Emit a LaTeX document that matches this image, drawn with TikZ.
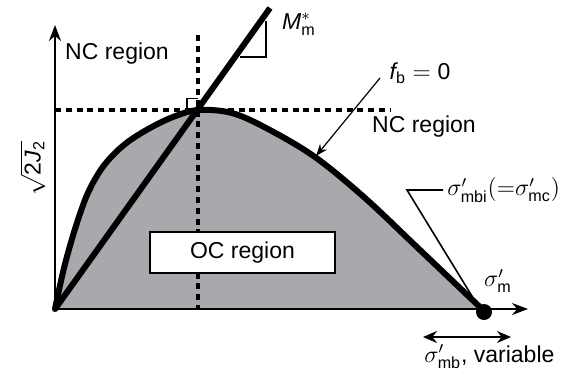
\documentclass[tikz,border=0pt]{standalone}
\usepackage{fontspec}
\setmainfont{Liberation Sans}
\usetikzlibrary{arrows.meta}
\definecolor{fillgray}{RGB}{168,169,172}
\begin{document}
\begin{tikzpicture}[x=0.5pt,y=-0.5pt,
  axisline/.style={line width=1pt,-{Stealth[length=8pt,width=6pt]}},
  bold/.style={line width=3pt,line cap=round,line join=round},
  dashline/.style={line width=1.7pt,dash pattern=on 3pt off 2.4pt},
  thinline/.style={line width=0.6pt},
  lbl/.style={font=\fontsize{11.5}{13}\selectfont,inner sep=0pt}]
\useasboundingbox (0,0) rectangle (561,372);
% key points
\coordinate (O) at (55,309);
\coordinate (ytip) at (55,25);
\coordinate (xtip) at (528,309);
\coordinate (peak) at (198,110);
\coordinate (mtop) at (270,8);
\coordinate (vtop) at (198,35);
\coordinate (vbot) at (198,309);
\coordinate (hleft) at (55,110);
\coordinate (hright) at (390,110);
% shaded region
\fill[fillgray] plot[smooth,tension=0.55] coordinates {(55,309) (64,268) (75,229) (87,195) (100,171) (113,155) (129,141) (150,128) (173,117) (198,110) (232,113) (268,129) (315,157) (365,198) (420,250) (483,310)} -- cycle;
% dashed guide lines
\draw[dashline] (vtop) -- (vbot);
\draw[dashline] (hleft) -- (hright);
% OC region box
\node[draw,line width=1pt,fill=white,minimum width=92.5pt,minimum height=20.5pt,inner sep=0pt,font=\fontsize{11.5}{13}\selectfont] (oc) at (242.5,252.5) {OC region};
% right-angle square
\draw[line width=0.8pt] (187,110) -- (187,98.5) -- (198,98.5);
% M line
\draw[bold,line cap=butt] (O) -- (mtop);
% triangle
\coordinate (ta) at (240,57);
\coordinate (tb) at (266,57);
\coordinate (tc) at (266,21);
\draw[line width=0.9pt] (ta) -- (tb) -- (tc);
% curve
\draw[bold] plot[smooth,tension=0.55] coordinates {(55,309) (64,268) (75,229) (87,195) (100,171) (113,155) (129,141) (150,128) (173,117) (198,110) (232,113) (268,129) (315,157) (365,198) (420,250) (483,310)};
% axes
\draw[axisline] (O) -- (ytip);
\draw[axisline] (O) -- (xtip);
% end dot
\node[circle,fill=black,minimum size=8pt,inner sep=0pt] (dot) at (484,312) {};
% labels
\node[lbl] (ncl) at (117,54) {NC region};
\node[lbl] (ncr) at (424,127) {NC region};
\node[lbl] (mm) at (299,24) {$\textit{M}^{*}_{\mathrm{m}}$};
\node[lbl] (fb) at (420,73) {$\textit{f}_{\mathrm{b}}=\mathrm{0}$};
\node[lbl,rotate=90] (sj) at (33,168) {$\sqrt{\mathrm{2}\textit{J}_{\mathrm{2}}}$};
\node[lbl,anchor=west] (smbi) at (447,190) {$\sigma'_{\mathrm{mbi}}({=}\sigma'_{\mathrm{mc}})$};
\node[lbl] (sm) at (498,281) {$\sigma'_{\mathrm{m}}$};
\node[lbl,anchor=west] (smb) at (424,357) {$\sigma'_{\mathrm{mb}}$, variable};
% leader for f_b = 0
\coordinate (fbs) at (380,78);
\coordinate (fbe) at (316,156);
\draw[thinline,-{Stealth[length=6pt,width=4.5pt]}] (fbs) -- (fbe);
% leader for sigma'_mbi
\coordinate (la) at (443,190);
\coordinate (lb) at (407,190);
\draw[line width=0.8pt] (la) -- (lb) -- (dot.north west);
% variable double arrow
\coordinate (va) at (423,337);
\coordinate (vb) at (511,337);
\draw[line width=1pt,{Stealth[length=7pt,width=6pt]}-{Stealth[length=7pt,width=6pt]}] (va) -- (vb);
\end{tikzpicture}
\end{document}
